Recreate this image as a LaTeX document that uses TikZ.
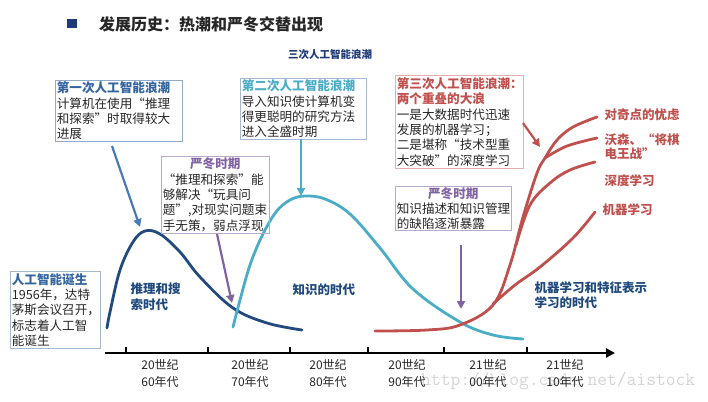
\documentclass[tikz,border=0pt]{standalone}
\usepackage{fontspec}
\setmainfont{Noto Sans CJK SC}
\usetikzlibrary{arrows.meta}
\definecolor{navy}{HTML}{1F3A78}
\definecolor{tdark}{HTML}{262626}
\definecolor{cblue}{HTML}{35659F}
\definecolor{cteal}{HTML}{4BACC6}
\definecolor{cred}{HTML}{C0504D}
\definecolor{cpurp}{HTML}{8064A2}
\definecolor{cdblue}{HTML}{1F497D}
\definecolor{cnavyc}{HTML}{234A7C}
\definecolor{carrb}{HTML}{4A7AB5}
\tikzset{
  infobox/.style={draw=#1, line width=0.6pt, inner xsep=1.5pt, inner ysep=1pt,
    anchor=north west, align=left, text=tdark,
    font=\fontsize{12.6}{15.3}\selectfont},
  curve/.style={line width=2.8pt, line cap=round},
  arr/.style={line width=2.2pt, -{Triangle[length=8pt,width=8pt]}},
  axl/.style={align=center, text=tdark, font=\fontsize{12}{17}\selectfont},
  redl/.style={anchor=west, align=left, text=cred, font=\fontsize{12.5}{13.5}\selectfont\bfseries},
  bluel/.style={anchor=west, align=left, text=cdblue, font=\fontsize{12.5}{16}\selectfont\bfseries},
}
\begin{document}
\begin{tikzpicture}[x=1pt,y=-1pt]
\useasboundingbox (0,0) rectangle (708,401);
% watermark
\node[anchor=west, text=black!17, font=\ttfamily\fontsize{19}{19}\selectfont, inner sep=0pt] (wm) at (421,381) {http://blog.csdn.net/aistock};
% title
\fill[navy] (67,19) rectangle (77,28);
\node[anchor=west, text=tdark, font=\fontsize{16}{16}\selectfont\bfseries, inner sep=0pt] (title) at (99,24) {发展历史：热潮和严冬交替出现};
\node[text=navy, font=\fontsize{10.5}{10.5}\selectfont\bfseries, inner sep=0pt] (sub) at (330,55) {三次人工智能浪潮};
% curves
\draw[curve, cnavyc] plot[smooth, tension=0.6] coordinates {(107,328) (110,312) (120,270) (133,242) (145,231) (160,234) (180,252) (200,277) (233,308) (267,323) (302,330)};
\draw[curve, cteal] plot[smooth, tension=0.6] coordinates {(233,327) (240,300) (250,265) (262,236) (276,212) (290,200) (305,196) (325,199) (350,214) (380,248) (413,289) (460,322) (493,335) (523,339)};
\draw[curve, cred] plot[smooth, tension=0.6] coordinates {(375,331) (427,330) (460,325) (493,305) (510,265) (523,217) (537,173) (545,158) (557,140) (573,127) (597,117)};
\draw[curve, cred] plot[smooth, tension=0.6] coordinates {(545,158) (567,146) (597,138)};
\draw[curve, cred] plot[smooth, tension=0.6] coordinates {(516,245) (530,205) (550,183) (570,170) (595,162)};
\draw[curve, cred] plot[smooth, tension=0.6] coordinates {(493,304) (515,285) (540,267) (573,238) (595,212)};
% axis
\coordinate (axs) at (105,353);
\coordinate (axe) at (615,353);
\draw[line width=2.7pt, -{Triangle[length=9pt,width=9pt]}] (axs) -- (axe);
\foreach \tx in {126,208,290,368,444,527} \draw[line width=2pt] (\tx,353) -- (\tx,347);
\node[axl] (l60) at (160,373.5) {20世纪\\60年代};
\node[axl] (l70) at (250,373.5) {20世纪\\70年代};
\node[axl] (l80) at (328,373.5) {20世纪\\80年代};
\node[axl] (l90) at (407,373.5) {20世纪\\90年代};
\node[axl] (l00) at (488,373.5) {21世纪\\00年代};
\node[axl] (l10) at (565,373.5) {21世纪\\10年代};
% boxes
\node[infobox=cblue!55, text width=124pt, minimum width=127pt, minimum height=61pt] (b1) at (55,80)
 {{\color{cblue}\bfseries 第一次人工智能浪潮}\\计算机在使用“推理\\和探索”时取得较大\\进展};
\node[infobox=cblue!45, text width=123pt, minimum width=126pt, minimum height=61pt] (b2) at (240,78)
 {{\color{cteal}\bfseries 第二次人工智能浪潮}\\导入知识使计算机变\\得更聪明的研究方法\\进入全盛时期};
\node[infobox=cred!45, text width=125pt, minimum width=128pt, minimum height=93pt] (b3) at (395,75)
 {{\color{cred}\bfseries 第三次人工智能浪潮：}\\{\color{cred}\bfseries 两个重叠的大浪}\\一是大数据时代迅速\\发展的机器学习；\\二是堪称“技术型重\\大突破”的深度学习};
\node[infobox=cpurp!55, text width=105pt, minimum width=108pt, minimum height=77pt] (b4) at (161,156)
 {\makebox[\hsize]{\color{cpurp}\bfseries 严冬时期}\\“推理和探索”能\\够解决“玩具问\\题”,对现实问题束\\手无策，弱点浮现};
\node[infobox=cpurp!55, text width=113pt, minimum width=116pt, minimum height=44pt] (b5) at (395,186)
 {\makebox[\hsize]{\color{cpurp}\bfseries 严冬时期}\\知识描述和知识管理\\的缺陷逐渐暴露};
\node[infobox=cblue!45, text width=87pt, minimum width=90pt, minimum height=77pt] (b6) at (10,271)
 {{\color{cblue}\bfseries 人工智能诞生}\\1956年，达特\\茅斯会议召开，\\标志着人工智\\能诞生};
% arrows
\coordinate (a1s) at (112,146);
\coordinate (a1e) at (140,227);
\draw[arr, carrb] (a1s) -- (a1e);
\coordinate (a2s) at (217,234);
\coordinate (a2e) at (232,303);
\draw[arr, cpurp] (a2s) -- (a2e);
\coordinate (a3s) at (301,139);
\coordinate (a3e) at (301,196);
\draw[arr, cteal] (a3s) -- (a3e);
\coordinate (a4s) at (461,245);
\coordinate (a4e) at (461,309);
\draw[arr, cpurp] (a4s) -- (a4e);
\coordinate (a5s) at (523,123);
\coordinate (a5e) at (540,147);
\draw[arr, cred] (a5s) -- (a5e);
% labels
\node[bluel] (lt1) at (127,297) {推理和搜\\索时代};
\node[bluel] (lt2) at (289,290) {知识的时代};
\node[bluel, font=\fontsize{12.5}{15}\selectfont\bfseries] (lt3) at (531,295.5) {机器学习和特征表示\\学习的时代};
\node[redl] (r1) at (601,115) {对奇点的忧虑};
\node[redl] (r2) at (601,146.5) {沃森、“将棋\\电王战”};
\node[redl] (r3) at (601,181) {深度学习};
\node[redl] (r4) at (599,210) {机器学习};
\end{tikzpicture}
\end{document}
